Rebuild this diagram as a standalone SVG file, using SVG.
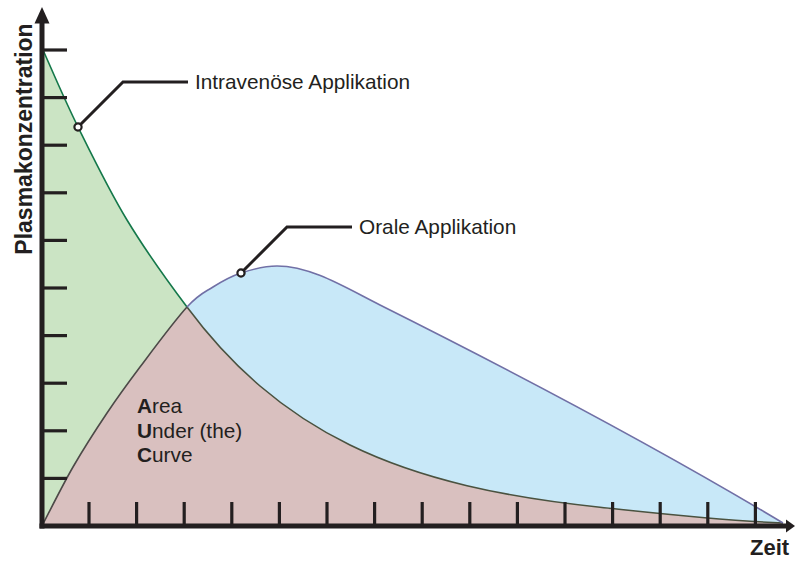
<svg xmlns="http://www.w3.org/2000/svg" width="795" height="561" viewBox="0 0 795 561">
  <style>
    .lbl { font-family: "Liberation Sans", Arial, sans-serif; font-size: 20.8px; fill: #231f20; }
    .ax { font-family: "Liberation Sans", Arial, sans-serif; font-weight: bold; fill: #231f20; }
    .tick { stroke: #231f20; stroke-width: 3.2; fill: none; }
    .axis { stroke: #231f20; stroke-width: 5; fill: none; }
    .call { stroke: #231f20; stroke-width: 3; fill: none; stroke-linejoin: miter; }
    .mark { stroke: #231f20; stroke-width: 2.2; fill: #ffffff; }
    .curve { fill: none; stroke-width: 1.6; }
  </style>
  <rect width="795" height="561" fill="#ffffff"/>

  <g id="areas">
    <path id="area-oral" fill="#c8e8f8" d="M43,524 C48,514.5 62.3,485.5 73,467 C83.7,448.5 95.8,429.7 107,413 C118.2,396.3 126.7,384.7 140,367 C153.3,349.3 174.8,320.3 187,307 C199.2,293.7 204,292.7 213,287 C222,281.3 230.3,276.5 241,273 C251.7,269.5 265,266 277,266 C311.3,266 345.7,287.8 380,305 C514.3,372.2 648.7,442.4 783,523 L783,526 L43,526 Z"/>
    <path id="area-iv" fill="#cbe4c4" d="M43,50 C48.8,62.8 64,98.7 78,127 C92,155.3 108.8,190 127,220 C145.2,250 169.3,283.5 187,307 C211.3,339.7 235.7,365.2 260,386 C290,411.7 320,430.3 350,445 C389,464.1 428,476.4 467,485.7 C511.3,496.2 555.7,502.6 600,507.2 C661,513.6 722,520.6 783,523 L783,526 L43,526 Z"/>
    <path id="area-auc" fill="#d9c0bf" d="M43,524 C48,514.5 62.3,485.5 73,467 C83.7,448.5 95.8,429.7 107,413 C118.2,396.3 126.7,384.7 140,367 C153.3,349.3 174.8,320.3 187,307 C211.3,339.7 235.7,365.2 260,386 C290,411.7 320,430.3 350,445 C389,464.1 428,476.4 467,485.7 C511.3,496.2 555.7,502.6 600,507.2 C661,513.6 722,520.6 783,523 L783,526 L43,526 Z"/>
  </g>

  <g id="curves">
    <path class="curve" stroke="#14784a" d="M43,50 C48.8,62.8 64,98.7 78,127 C92,155.3 108.8,190 127,220 C145.2,250 169.3,283.5 187,307"/>
    <path class="curve" stroke="#4a5240" d="M187,307 C211.3,339.7 235.7,365.2 260,386 C290,411.7 320,430.3 350,445 C389,464.1 428,476.4 467,485.7 C511.3,496.2 555.7,502.6 600,507.2 C661,513.6 722,520.6 783,523"/>
    <path class="curve" stroke="#4d4a48" d="M43,524 C48,514.5 62.3,485.5 73,467 C83.7,448.5 95.8,429.7 107,413 C118.2,396.3 126.7,384.7 140,367 C153.3,349.3 174.8,320.3 187,307"/>
    <path class="curve" stroke="#7170a6" d="M187,307 C199.2,293.7 204,292.7 213,287 C222,281.3 230.3,276.5 241,273 C251.7,269.5 265,266 277,266 C311.3,266 345.7,287.8 380,305 C514.3,372.2 648.7,442.4 783,523"/>
  </g>

  <g id="axes">
    <line class="axis" x1="42" y1="20" x2="42" y2="528.5"/>
    <line class="axis" x1="39.5" y1="526" x2="788" y2="526"/>
    <polygon fill="#231f20" points="42,7 34.5,23.5 49.5,23.5"/>
    <polygon fill="#231f20" points="795,526 786,519.5 786,532.5"/>
    <g id="y-ticks">
      <line class="tick" x1="42" y1="50" x2="67" y2="50"/>
      <line class="tick" x1="42" y1="97.6" x2="67" y2="97.6"/>
      <line class="tick" x1="42" y1="145.2" x2="67" y2="145.2"/>
      <line class="tick" x1="42" y1="192.8" x2="67" y2="192.8"/>
      <line class="tick" x1="42" y1="240.4" x2="67" y2="240.4"/>
      <line class="tick" x1="42" y1="288" x2="67" y2="288"/>
      <line class="tick" x1="42" y1="335.6" x2="67" y2="335.6"/>
      <line class="tick" x1="42" y1="383.2" x2="67" y2="383.2"/>
      <line class="tick" x1="42" y1="430.8" x2="67" y2="430.8"/>
      <line class="tick" x1="42" y1="478.4" x2="67" y2="478.4"/>
    </g>
    <g id="x-ticks">
      <line class="tick" x1="89" y1="502" x2="89" y2="526"/>
      <line class="tick" x1="136.6" y1="502" x2="136.6" y2="526"/>
      <line class="tick" x1="184.2" y1="502" x2="184.2" y2="526"/>
      <line class="tick" x1="231.8" y1="502" x2="231.8" y2="526"/>
      <line class="tick" x1="279.4" y1="502" x2="279.4" y2="526"/>
      <line class="tick" x1="327" y1="502" x2="327" y2="526"/>
      <line class="tick" x1="374.6" y1="502" x2="374.6" y2="526"/>
      <line class="tick" x1="422.2" y1="502" x2="422.2" y2="526"/>
      <line class="tick" x1="469.8" y1="502" x2="469.8" y2="526"/>
      <line class="tick" x1="517.4" y1="502" x2="517.4" y2="526"/>
      <line class="tick" x1="565" y1="502" x2="565" y2="526"/>
      <line class="tick" x1="612.6" y1="502" x2="612.6" y2="526"/>
      <line class="tick" x1="660.2" y1="502" x2="660.2" y2="526"/>
      <line class="tick" x1="707.8" y1="502" x2="707.8" y2="526"/>
      <line class="tick" x1="755.4" y1="502" x2="755.4" y2="526"/>
    </g>
    <text class="ax" font-size="23" text-anchor="middle" transform="translate(32,139) rotate(-90)">Plasmakonzentration</text>
    <text class="ax" font-size="22" x="750" y="555">Zeit</text>
  </g>

  <g id="connectors">
    <polyline class="call" points="78,127 123,82 188,82"/>
    <circle class="mark" cx="78" cy="127" r="3.6"/>
    <polyline class="call" points="241,273 287,227 352,227"/>
    <circle class="mark" cx="241" cy="273" r="3.6"/>
  </g>

  <g id="label-iv">
    <text class="lbl" x="195" y="88.5">Intravenöse Applikation</text>
  </g>
  <g id="label-oral">
    <text class="lbl" x="359" y="233.5">Orale Applikation</text>
  </g>
  <g id="label-auc">
    <text class="lbl" x="137" y="413"><tspan font-weight="bold">A</tspan>rea</text>
    <text class="lbl" x="137" y="437.5"><tspan font-weight="bold">U</tspan>nder (the)</text>
    <text class="lbl" x="137" y="462"><tspan font-weight="bold">C</tspan>urve</text>
  </g>
</svg>
